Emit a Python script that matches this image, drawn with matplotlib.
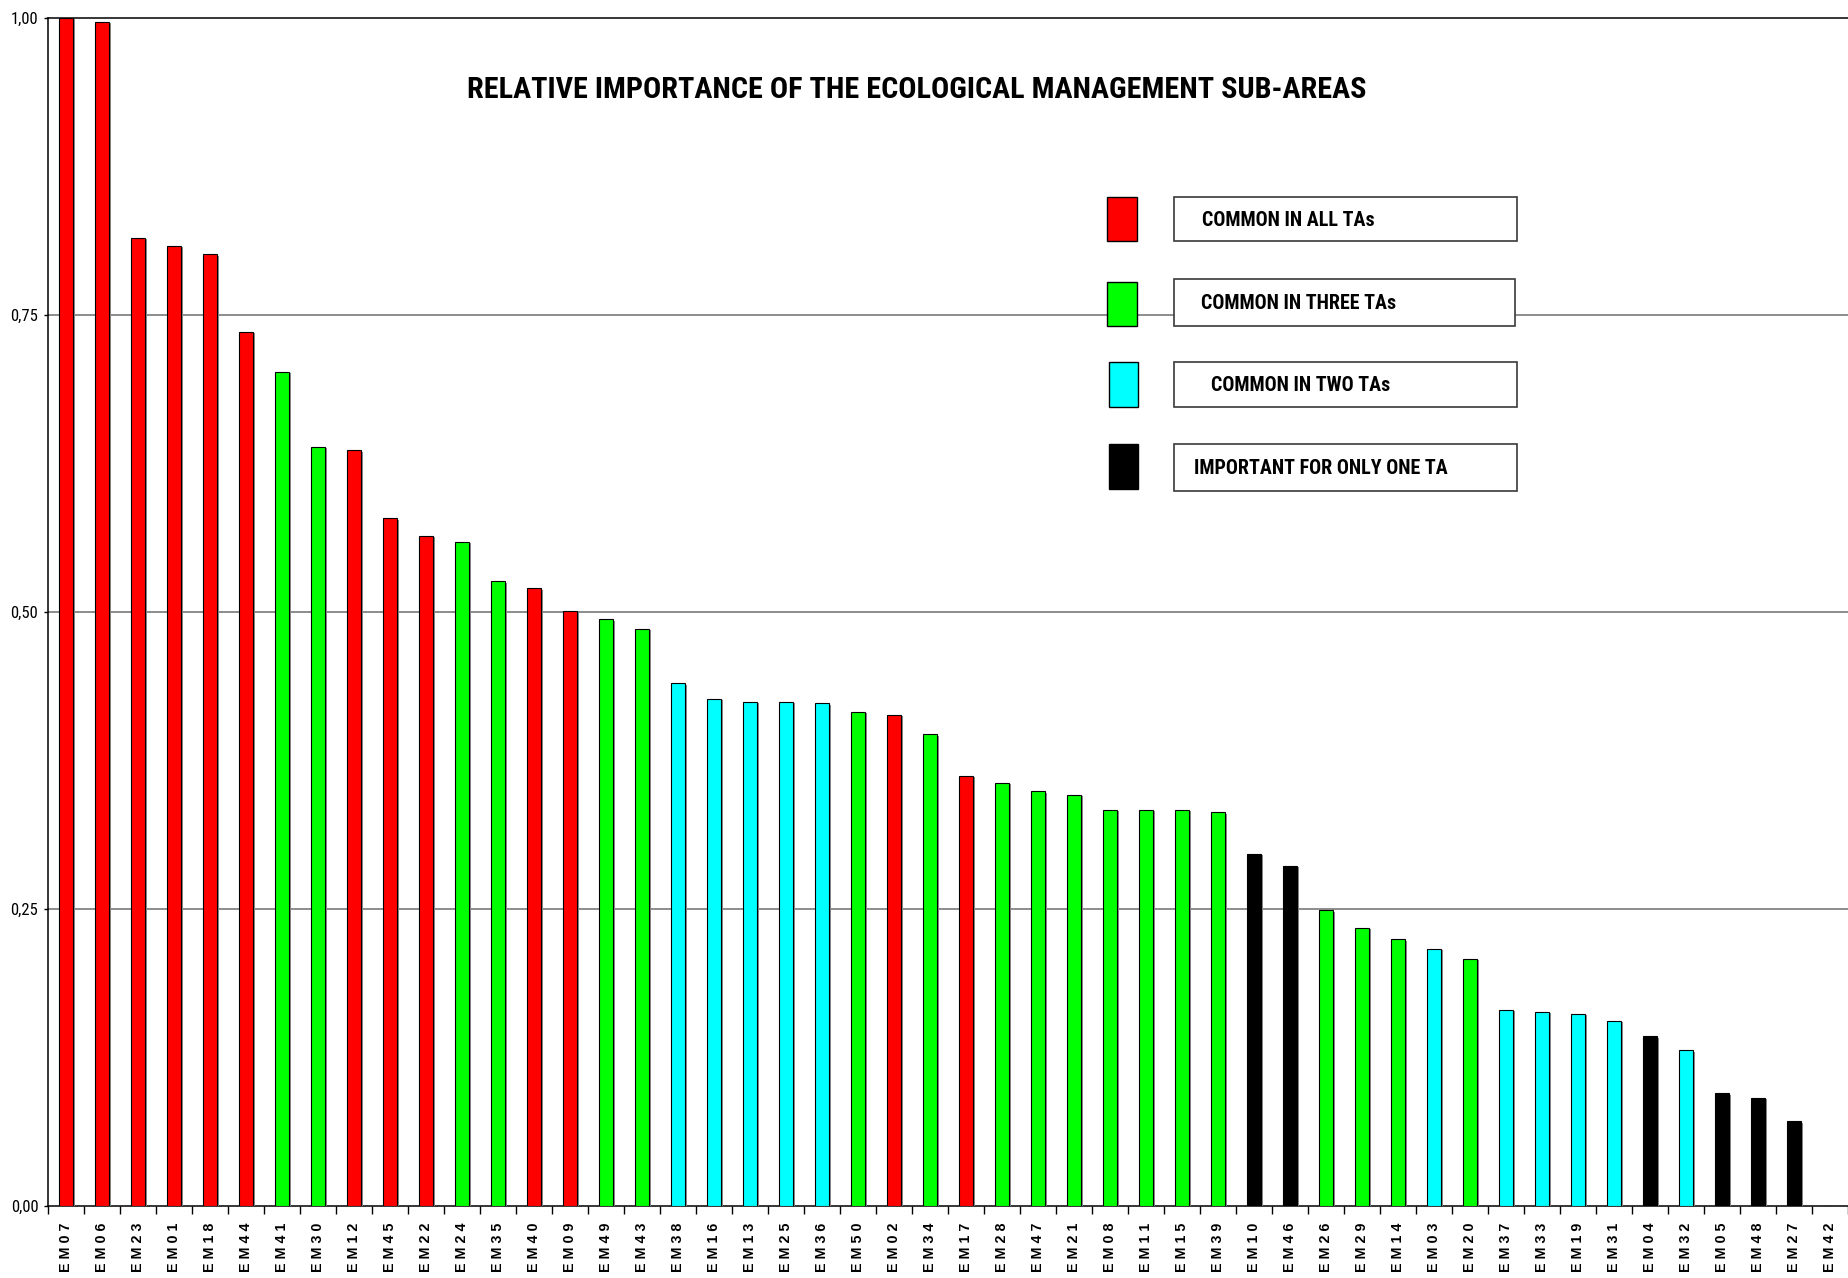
import matplotlib
matplotlib.use("Agg")
import matplotlib.pyplot as plt
from matplotlib.patches import Rectangle
import matplotlib.patheffects as pe
from matplotlib.ticker import FixedLocator, FuncFormatter
from matplotlib import font_manager as fm

# ---------------- data ----------------
categories = ["EM 07", "EM 06", "EM 23", "EM 01", "EM 18", "EM 44", "EM 41", "EM 30", "EM 12", "EM 45",
              "EM 22", "EM 24", "EM 35", "EM 40", "EM 09", "EM 49", "EM 43", "EM 38", "EM 16", "EM 13",
              "EM 25", "EM 36", "EM 50", "EM 02", "EM 34", "EM 17", "EM 28", "EM 47", "EM 21", "EM 08",
              "EM 11", "EM 15", "EM 39", "EM 10", "EM 46", "EM 26", "EM 29", "EM 14", "EM 03", "EM 20",
              "EM 37", "EM 33", "EM 19", "EM 31", "EM 04", "EM 32", "EM 05", "EM 48", "EM 27", "EM 42"]
values = [1.000, 0.997, 0.815, 0.808, 0.801, 0.736, 0.702, 0.639, 0.636, 0.579,
          0.564, 0.559, 0.526, 0.520, 0.501, 0.494, 0.486, 0.440, 0.427, 0.4245,
          0.4245, 0.423, 0.416, 0.4136, 0.397, 0.362, 0.356, 0.349, 0.346, 0.3336,
          0.3336, 0.3336, 0.3314, 0.2966, 0.2865, 0.249, 0.234, 0.2245, 0.2166, 0.208,
          0.165, 0.1636, 0.162, 0.156, 0.1428, 0.131, 0.0949, 0.0912, 0.0713, 0.0]
# number of TAs in which the sub-area is common/important
groups = [4, 4, 4, 4, 4, 4, 3, 3, 4, 4,
          4, 3, 3, 4, 4, 3, 3, 2, 2, 2,
          2, 2, 3, 4, 3, 4, 3, 3, 3, 3,
          3, 3, 3, 1, 1, 3, 3, 3, 2, 3,
          2, 2, 2, 2, 1, 2, 1, 1, 1, 1]
legend_groups = [4, 3, 2, 1]
legend_labels = ["COMMON IN ALL TAs", "COMMON IN THREE TAs", "COMMON IN TWO TAs", "IMPORTANT FOR ONLY ONE TA"]
title = "RELATIVE IMPORTANCE OF THE ECOLOGICAL MANAGEMENT SUB-AREAS"
yticks = [0.0, 0.25, 0.5, 0.75, 1.0]

group_colors = {4: "#FF0000", 3: "#00FF00", 2: "#00FFFF", 1: "#000000"}


# ---------------- fonts: look for a condensed face ----------------
def _is_cond(f):
    st = f.stretch
    if isinstance(st, str):
        cond = "condensed" in st or "narrow" in st
    else:
        cond = st < 500
    return cond or "Narrow" in f.name or "Condensed" in f.name or "Condensed" in f.fname


def _weight_num(w):
    if isinstance(w, int):
        return w
    return {"bold": 700, "semibold": 600, "demibold": 600, "heavy": 800, "black": 900,
            "normal": 400, "regular": 400, "book": 400, "medium": 500, "light": 300}.get(str(w).lower(), 400)


def pick_font(bold):
    prefs = ["Liberation Sans Narrow", "Roboto Condensed", "Open Sans Condensed", "DejaVu Sans",
             "Noto Sans", "Open Sans", "Roboto", "Inter"]
    cands = [f for f in fm.fontManager.ttflist if _is_cond(f) and f.style == "normal"]
    for p in prefs:
        for f in cands:
            if f.name == p:
                w = _weight_num(f.weight)
                if (bold and w >= 650) or (not bold and 350 <= w <= 500):
                    return fm.FontProperties(fname=f.fname)
    for f in cands:
        w = _weight_num(f.weight)
        if (bold and w >= 650) or (not bold and 350 <= w <= 500):
            return fm.FontProperties(fname=f.fname)
    if bold:
        return fm.FontProperties(family=["Liberation Sans", "DejaVu Sans"], weight="bold")
    return fm.FontProperties(family=["Liberation Sans", "DejaVu Sans"])


FP_BOLD = pick_font(True)
FP_REG = pick_font(False)

# ---------------- figure ----------------
W, H = 1848, 1278
DPI = 100
fig = plt.figure(figsize=(W / DPI, H / DPI), dpi=DPI)
fig.patch.set_facecolor("white")


def fx(px):
    return px / W


def fy(py):
    return 1 - py / H


ax_left, ax_right, ax_top, ax_bottom = 48, 1848, 18, 1206
ax = fig.add_axes([fx(ax_left), fy(ax_bottom), fx(ax_right - ax_left), (ax_bottom - ax_top) / H])

x = list(range(len(categories)))
colors = [group_colors[g] for g in groups]
bars = ax.bar(x, values, width=0.39, color=colors, edgecolor="black", linewidth=0.8, zorder=3)
for b in bars:
    b.set_path_effects([pe.SimplePatchShadow(offset=(1.6, -1.0), shadow_rgbFace="#8a8a8a", alpha=1.0),
                        pe.Normal()])

ax.set_xlim(-0.5, len(categories) - 0.5)
ax.set_ylim(0, 1.0)

for v in yticks[1:-1]:
    ax.axhline(v, color="#6e6e6e", linewidth=1.1, zorder=1)

ax.spines["right"].set_visible(False)
for s in ["left", "bottom", "top"]:
    ax.spines[s].set_color("black")
    ax.spines[s].set_linewidth(1.1)

ax.yaxis.set_major_locator(FixedLocator(yticks))
ax.yaxis.set_major_formatter(FuncFormatter(lambda v, p: f"{v:.2f}".replace(".", ",")))
ax.tick_params(axis="y", length=3, width=1, pad=4, colors="black")
for lab in ax.get_yticklabels():
    lab.set_fontproperties(FP_REG)
    lab.set_fontsize(12)


def spaced(label):
    pre, num = label.split(" ")
    return " ".join(pre) + " " + " ".join(num)


ax.set_xticks(x)
ax.set_xticklabels([spaced(c) for c in categories], rotation=90, fontsize=10.3,
                   fontweight="bold", family=["Liberation Sans", "DejaVu Sans"], va="top", ha="center")
ax.tick_params(axis="x", which="major", length=0, pad=12)
ax.set_xticks([i - 0.5 for i in range(len(categories) + 1)], minor=True)
ax.tick_params(axis="x", which="minor", length=6, width=1, color="black")

renderer = fig.canvas.get_renderer()


def fit_width(txt, target_px):
    fs = txt.get_fontsize()
    for _ in range(3):
        w = txt.get_window_extent(renderer=renderer).width
        if w <= 0:
            break
        fs = fs * target_px / w
        txt.set_fontsize(fs)
    return fs


# title
t_title = fig.text(fx(917), fy(90), title, ha="center", va="center", fontproperties=FP_BOLD,
                   fontsize=26, color="black")
fit_width(t_title, 899)

# legend (figure-level so it hides the grid line behind it)
sq = [(1107, 197, 1137, 241), (1107, 282, 1137, 326), (1109, 362, 1138, 407), (1109, 444, 1138, 489)]
bx = [(1174, 197, 1517, 241), (1174, 279, 1515, 326), (1174, 362, 1517, 407), (1174, 444, 1517, 491)]
tx = [1202, 1201, 1211, 1194]
texts = []
for g, lab, s, b, t in zip(legend_groups, legend_labels, sq, bx, tx):
    x0, y0, x1, y1 = s
    fig.add_artist(Rectangle((fx(x0), fy(y1)), fx(x1 - x0), (y1 - y0) / H,
                             transform=fig.transFigure, facecolor=group_colors[g],
                             edgecolor="black", linewidth=1.0, zorder=5))
    x0, y0, x1, y1 = b
    fig.add_artist(Rectangle((fx(x0), fy(y1)), fx(x1 - x0), (y1 - y0) / H,
                             transform=fig.transFigure, facecolor="white",
                             edgecolor="#3a3a3a", linewidth=1.2, zorder=5))
    texts.append(fig.text(fx(t), fy((y0 + y1) / 2 + 1), lab, ha="left", va="center",
                          fontproperties=FP_BOLD, fontsize=15, color="black", zorder=6))
fs_leg = fit_width(texts[0], 172)
for tt in texts[1:]:
    tt.set_fontsize(fs_leg)

fig.savefig("out.png", dpi=DPI, facecolor="white")
